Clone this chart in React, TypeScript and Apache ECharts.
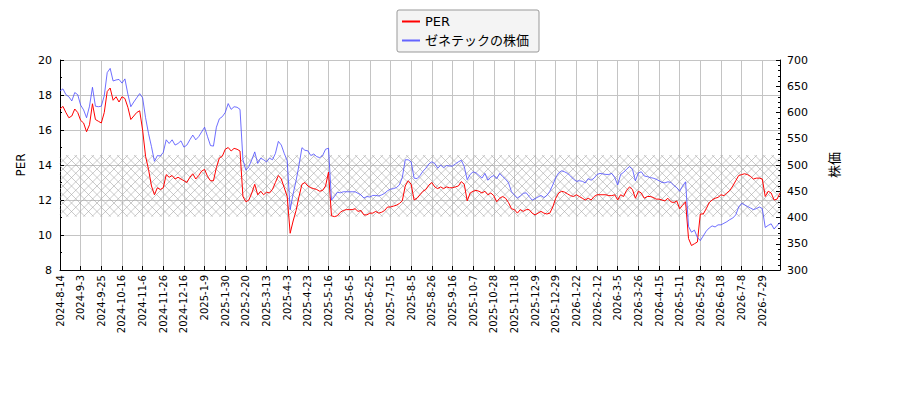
import * as echarts from 'echarts';
import React, { useEffect, useRef } from 'react';

// 軸ラベル（14営業日ごと）
const tickLabels = [
  '2024-8-14', '2024-9-3', '2024-9-25', '2024-10-16', '2024-11-6', '2024-11-26', '2024-12-16',
  '2025-1-9', '2025-1-30', '2025-2-20', '2025-3-13', '2025-4-3', '2025-4-23', '2025-5-16',
  '2025-6-5', '2025-6-25', '2025-7-15', '2025-8-5', '2025-8-26', '2025-9-16', '2025-10-7',
  '2025-10-28', '2025-11-18', '2025-12-9', '2025-12-29', '2026-1-22', '2026-2-12', '2026-3-5',
  '2026-3-26', '2026-4-15', '2026-5-11', '2026-5-29', '2026-6-18', '2026-7-8', '2026-7-29',
];

// 2営業日ごとの値（ラベル1区間 = 7点）
const perValues = [
  17.2, 17.35, 17.0, 16.7, 16.8, 17.2, 17.0,
  16.55, 16.4, 15.9, 16.3, 17.5, 16.6, 16.5,
  16.4, 17.0, 18.2, 18.4, 17.7, 17.9, 17.6,
  17.9, 17.8, 17.3, 16.6, 16.8, 17.0, 17.1,
  16.0, 14.5, 13.75, 12.8, 12.3, 12.7, 12.6,
  12.7, 13.45, 13.3, 13.4, 13.2, 13.3, 13.2,
  13.1, 13.0, 13.3, 13.5, 13.2, 13.4, 13.65,
  13.75, 13.35, 13.1, 13.1, 13.85, 14.4, 14.5,
  14.9, 15.0, 14.8, 14.95, 14.9, 14.8, 12.2,
  11.9, 12.0, 12.4, 12.9, 12.3, 12.5, 12.3,
  12.45, 12.4, 12.6, 13.0, 13.4, 13.2, 12.7,
  12.2, 10.1, 10.8, 11.4, 12.2, 12.9, 13.0,
  12.8, 12.7, 12.65, 12.6, 12.5, 12.55, 12.8,
  13.6, 11.1, 11.05, 11.1, 11.3, 11.4, 11.45,
  11.45, 11.45, 11.5, 11.35, 11.4, 11.15, 11.15,
  11.25, 11.25, 11.35, 11.25, 11.3, 11.4, 11.6,
  11.6, 11.65, 11.7, 11.8, 11.95, 12.8, 13.1,
  12.9, 12.0, 12.1, 12.3, 12.5, 12.6, 12.85,
  13.0, 12.75, 12.65, 12.75, 12.65, 12.75, 12.7,
  12.7, 12.75, 12.8, 13.05, 12.9, 11.95, 12.4,
  12.5, 12.55, 12.5, 12.4, 12.5, 12.3, 12.4,
  12.25, 11.9, 12.1, 12.2, 12.1, 11.85, 11.5,
  11.45, 11.25, 11.45, 11.35, 11.45, 11.45, 11.25,
  11.15, 11.25, 11.35, 11.25, 11.2, 11.25, 11.6,
  12.1, 12.4, 12.5, 12.45, 12.35, 12.25, 12.2,
  12.3, 12.2, 12.1, 12.0, 12.1, 12.0, 12.2,
  12.3, 12.3, 12.3, 12.3, 12.25, 12.25, 12.3,
  12.0, 12.3, 12.2, 12.55, 12.75, 12.6, 12.1,
  12.5, 12.4, 12.1, 12.2, 12.2, 12.15, 12.05,
  12.05, 12.0, 11.95, 12.1, 11.9, 11.85, 11.95,
  11.5, 11.7, 11.9, 9.8, 9.4, 9.5, 9.6,
  11.2, 11.2, 11.5, 11.85, 12.0, 12.1, 12.15,
  12.3, 12.25, 12.4, 12.55, 12.8, 13.1, 13.4,
  13.45, 13.5, 13.45, 13.35, 13.2, 13.25, 13.25,
  13.2, 12.2, 12.5, 12.4, 12.0, 12.05, 12.4,
];

const priceValues = [
  641, 645, 634, 630, 622, 638, 634,
  614, 605, 590, 612, 648, 612, 611,
  612, 632, 676, 684, 660, 662, 663,
  656, 664, 635, 611, 620, 628, 636,
  628, 590, 560, 535, 507, 518, 517,
  524, 548, 541, 548, 538, 541, 546,
  534, 538, 548, 557, 548, 554, 563,
  572, 554, 537, 536, 572, 588, 592,
  600, 617, 606, 611, 610, 606, 510,
  490, 497, 510, 525, 503, 513, 510,
  506, 513, 510, 522, 545, 538, 522,
  508, 415, 445, 470, 500, 533, 528,
  527, 518, 521, 516, 514, 518, 530,
  532, 433, 440, 448, 447, 449, 449,
  449, 449, 449, 446, 443, 437, 440,
  439, 442, 442, 441, 443, 446, 451,
  454, 455, 457, 462, 476, 510, 510,
  506, 475, 474, 480, 488, 494, 502,
  506, 503, 494, 500, 495, 499, 498,
  498, 502, 506, 509, 497, 472, 482,
  487, 485, 480, 475, 484, 471, 477,
  480, 474, 484, 478, 473, 466, 449,
  443, 437, 441, 446, 447, 440, 433,
  436, 439, 442, 438, 442, 450, 462,
  476, 485, 489, 487, 484, 479, 473,
  469, 470, 469, 466, 474, 471, 475,
  482, 484, 483, 482, 482, 484, 476,
  462, 482, 486, 492, 497, 492, 470,
  485, 487, 479, 478, 476, 475, 473,
  470, 467, 466, 468, 467, 461, 457,
  450, 460, 468, 383, 372, 376, 362,
  356, 365, 374, 380, 384, 382, 386,
  386, 389, 392, 396, 399, 405, 420,
  427, 424, 421, 418, 415, 417, 420,
  417, 381, 385, 388, 378, 385, 390,
];

// ハッチ帯（PERの範囲）
const perBand = [11.05, 14.57];

const STEP = 7;
const categories = tickLabels.flatMap((d, k) =>
  Array.from({ length: STEP }, (_, j) => (j === 0 ? d : `${d}+${j}`)),
);

const FONT = "'DejaVu Sans', 'Noto Sans CJK JP', sans-serif";
const GRID_COLOR = '#c4c4c4';

const App: React.FC = () => {
  const chartRef = useRef<HTMLDivElement>(null);

  useEffect(() => {
    if (!chartRef.current) return;
    const chart = echarts.init(chartRef.current, undefined, { renderer: 'svg' });

    // 斜め格子のハッチ
    const renderHatch = (params: any, api: any) => {
      const cs = params.coordSys;
      const x0 = cs.x;
      const x1 = cs.x + cs.width;
      const y0 = api.coord([0, perBand[1]])[1];
      const y1 = api.coord([0, perBand[0]])[1];
      const s = 8.5;
      const style = { stroke: '#a6a6a6', lineWidth: 0.6 };
      const children: any[] = [];
      for (let c = x0 + y0; c <= x1 + y1; c += s) {
        const xa = Math.max(x0, c - y1);
        const xb = Math.min(x1, c - y0);
        if (xa < xb) children.push({ type: 'line', shape: { x1: xa, y1: c - xa, x2: xb, y2: c - xb }, style });
      }
      for (let d = y0 - x1; d <= y1 - x0; d += s) {
        const xa = Math.max(x0, y0 - d);
        const xb = Math.min(x1, y1 - d);
        if (xa < xb) children.push({ type: 'line', shape: { x1: xa, y1: xa + d, x2: xb, y2: xb + d }, style });
      }
      return { type: 'group', silent: true, children };
    };

    const option: echarts.EChartsOption = {
      animation: false,
      textStyle: { fontFamily: FONT },
      legend: {
        data: ['PER', 'ゼネテックの株価'],
        orient: 'vertical',
        left: 397,
        top: 10,
        padding: [5, 10, 5, 5],
        itemGap: 6,
        icon: 'rect',
        itemWidth: 18,
        itemHeight: 2,
        backgroundColor: '#f4f4f4',
        borderColor: '#999',
        borderWidth: 1,
        borderRadius: 2,
        textStyle: { fontSize: 13, color: '#000', fontFamily: FONT },
      },
      grid: { left: 60, right: 120, top: 60, bottom: 130, containLabel: false },
      xAxis: {
        type: 'category',
        data: categories,
        boundaryGap: false,
        axisLine: { lineStyle: { color: '#000', width: 1 } },
        axisTick: { inside: true, length: 4, interval: STEP - 1, lineStyle: { color: '#000' } },
        axisLabel: { interval: STEP - 1, rotate: 90, fontSize: 10, color: '#000', margin: 5, fontFamily: FONT },
        splitLine: { show: true, interval: STEP - 1, lineStyle: { color: GRID_COLOR, width: 1 } },
      },
      yAxis: [
        {
          type: 'value',
          position: 'left',
          min: 8,
          max: 20,
          interval: 2,
          name: 'PER',
          nameLocation: 'middle',
          nameRotate: 90,
          nameGap: 33,
          nameTextStyle: { fontSize: 12, color: '#000', fontFamily: FONT },
          axisLine: { show: true, lineStyle: { color: '#000', width: 1 } },
          axisTick: { show: true, inside: true, length: 4, lineStyle: { color: '#000' } },
          minorTick: { show: true, splitNumber: 2, length: 2, lineStyle: { color: '#000' } },
          axisLabel: { fontSize: 11, color: '#000', margin: 8, fontFamily: FONT },
          splitLine: { show: true, lineStyle: { color: GRID_COLOR, width: 1 } },
        },
        {
          type: 'value',
          position: 'right',
          min: 300,
          max: 700,
          interval: 50,
          name: '株価',
          nameLocation: 'middle',
          nameRotate: 90,
          nameGap: 48,
          nameTextStyle: { fontSize: 13, color: '#000', fontFamily: FONT },
          axisLine: { show: true, lineStyle: { color: '#000', width: 1 } },
          axisTick: { show: true, inside: true, length: 4, lineStyle: { color: '#000' } },
          minorTick: { show: true, splitNumber: 5, length: 2, lineStyle: { color: '#000' } },
          axisLabel: { fontSize: 11, color: '#000', margin: 7, fontFamily: FONT },
          splitLine: { show: false },
        },
      ],
      series: [
        {
          name: 'band',
          type: 'custom',
          xAxisIndex: 0,
          yAxisIndex: 0,
          z: 1,
          silent: true,
          data: [[0, perBand[0]]],
          renderItem: renderHatch as any,
        },
        {
          name: 'PER',
          type: 'line',
          yAxisIndex: 0,
          z: 3,
          data: perValues,
          symbol: 'none',
          lineStyle: { color: '#ff0000', width: 1 },
          itemStyle: { color: '#ff0000' },
        },
        {
          name: 'ゼネテックの株価',
          type: 'line',
          yAxisIndex: 1,
          z: 4,
          data: priceValues,
          symbol: 'none',
          lineStyle: { color: '#4a4aff', width: 0.8 },
          itemStyle: { color: '#6464ff' },
        },
      ],
    };

    chart.setOption(option);

    return () => {
      chart.dispose();
    };
  }, []);

  return (
    <div
      ref={chartRef}
      style={{ position: 'absolute', left: 0, top: 0, width: '900px', height: '400px' }}
    />
  );
};

export default App;
